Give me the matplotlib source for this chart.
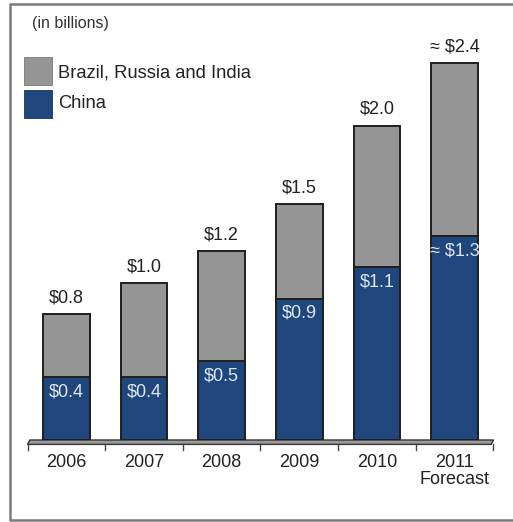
import matplotlib
matplotlib.use("Agg")
import matplotlib.pyplot as plt
from matplotlib.patches import Rectangle, Polygon
from matplotlib.lines import Line2D

plt.rcParams['font.family'] = ['Liberation Sans', 'DejaVu Sans']

years = ["2006", "2007", "2008", "2009", "2010", "2011\nForecast"]
china = [0.4, 0.4, 0.5, 0.9, 1.1, 1.3]
total = [0.8, 1.0, 1.2, 1.5, 2.0, 2.4]
china_labels = ["$0.4", "$0.4", "$0.5", "$0.9", "$1.1", "≈ $1.3"]
total_labels = ["$0.8", "$1.0", "$1.2", "$1.5", "$2.0", "≈ $2.4"]
others = [t - c for t, c in zip(total, china)]

GRAY = "#959595"
BLUE = "#1f477e"
EDGE = "#1e1e1e"

W, H = 513, 522
fig = plt.figure(figsize=(W / 100, H / 100), dpi=100)

# plot area in pixel terms
x0, x1 = 27.5, 493.5
y_base, y_top = 440, 8
ax = fig.add_axes([x0 / W, (H - y_base) / H, (x1 - x0) / W, (y_base - y_top) / H])
ax.set_xlim(-0.5, len(years) - 0.5)
ax.set_ylim(0, 2.75)
ax.axis("off")

xs = list(range(len(years)))
bw = 0.6
ax.bar(xs, china, width=bw, color=BLUE, edgecolor=EDGE, linewidth=1.4, zorder=3)
ax.bar(xs, others, width=bw, bottom=china, color=GRAY, edgecolor=EDGE,
       linewidth=1.4, zorder=3)

for x, t, lab in zip(xs, total, total_labels):
    ax.text(x, t + 0.05, lab, ha="center", va="bottom", fontsize=13,
            color="#222222", zorder=5)
for x, c, lab in zip(xs, china, china_labels):
    ax.text(x, c - 0.04, lab, ha="center", va="top", fontsize=13,
            color="#dfe5ee", zorder=5)

# floor strip under the bars
dy = 0.028
floor = Polygon([(-0.5, -dy), (-0.47, 0), (5.5, 0), (5.47, -dy)], closed=True,
                facecolor="#9a9a9a", edgecolor="#333333", linewidth=1.0,
                clip_on=False, zorder=2)
ax.add_patch(floor)
for b in [i - 0.5 for i in range(len(years) + 1)]:
    ax.add_line(Line2D([b, b], [-dy, -dy - 0.035], color="#444444",
                       linewidth=1.0, clip_on=False))

for x, lab in zip(xs, years):
    ax.text(x, -0.09, lab, ha="center", va="top", fontsize=13,
            color="#222222", linespacing=1.0)

# header and legend
fig.text(32 / W, 1 - 24 / H, "(in billions)", fontsize=11.5, color="#333333",
         ha="left", va="center")
fig.patches.append(Rectangle((24 / W, 1 - 85 / H), 28 / W, 28 / H,
                             transform=fig.transFigure, facecolor=GRAY,
                             edgecolor="#7a7a7a", linewidth=0.6))
fig.patches.append(Rectangle((24 / W, 1 - 118 / H), 28 / W, 28 / H,
                             transform=fig.transFigure, facecolor=BLUE,
                             edgecolor="#15345c", linewidth=0.6))
fig.text(58 / W, 1 - 73 / H, "Brazil, Russia and India", fontsize=13.2,
         color="#222222", ha="left", va="center")
fig.text(58 / W, 1 - 104 / H, "China", fontsize=13.2, color="#222222",
         ha="left", va="center")

# frame around the figure
frame = Line2D([(W + 5) / W, 10 / W, 10 / W, (W + 5) / W],
               [1 - 4 / H, 1 - 4 / H, 1 - 520 / H, 1 - 520 / H],
               transform=fig.transFigure, color="#7a7a7a", linewidth=1.8)
fig.lines.append(frame)

fig.savefig("out.png", dpi=100)
